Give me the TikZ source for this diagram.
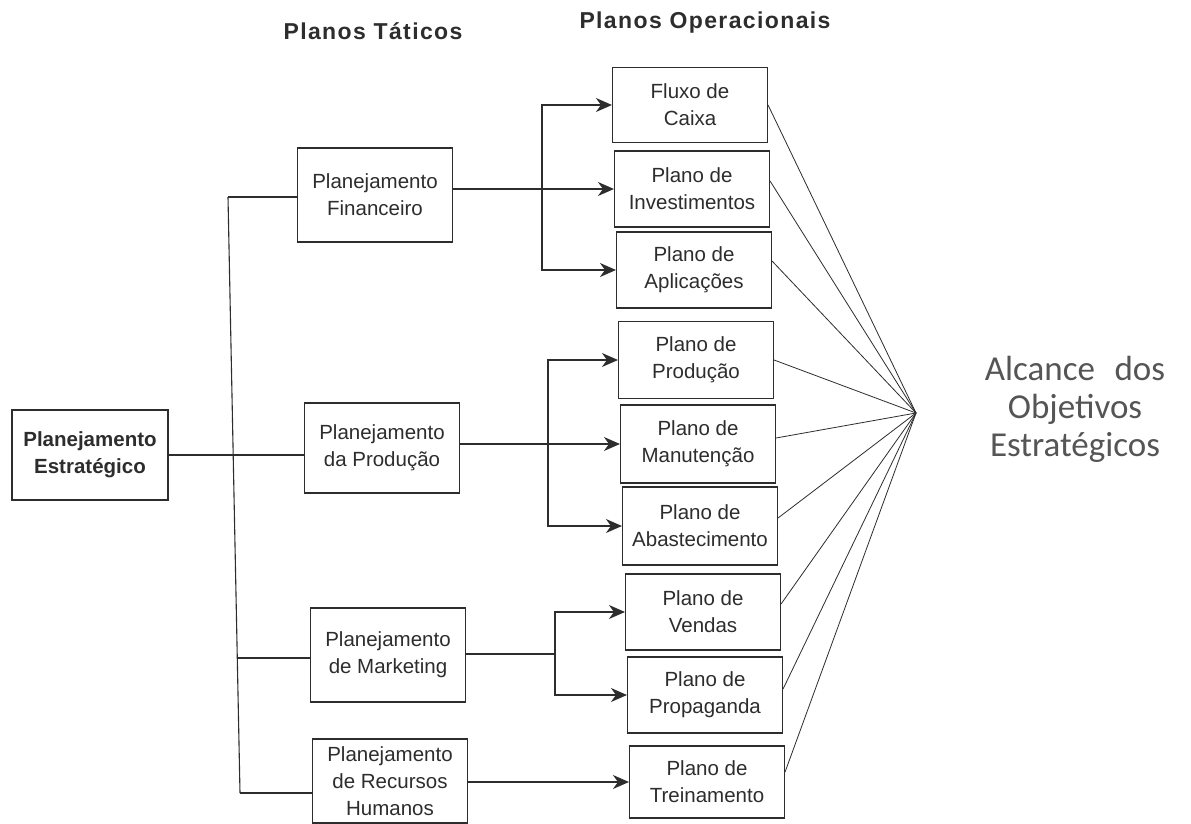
\documentclass[tikz,border=0pt]{standalone}
\usepackage{fontspec}
\setmainfont{Liberation Sans}
\newfontfamily\calib{Carlito}
\newfontfamily\hdfont[LetterSpace=6]{Liberation Sans}
\usetikzlibrary{arrows.meta}
\definecolor{ink}{RGB}{45,45,45}
\definecolor{gtxt}{RGB}{85,85,85}
\begin{document}
\begin{tikzpicture}[x=1pt,y=-1pt,
  box/.style={draw=ink,line width=1.1pt,inner sep=0pt,align=center,text=ink,
    font=\fontsize{20.5}{27}\selectfont},
  tbox/.style={box,minimum width=155pt,minimum height=92pt},
  obox/.style={box,minimum width=155pt,minimum height=77pt},
  conn/.style={draw=ink,line width=1.1pt},
  arr/.style={conn,-{Stealth[length=16pt,width=14pt,inset=5pt]}},
  ray/.style={draw=ink,line width=0.8pt},
  hdr/.style={text=ink,font=\hdfont\bfseries\fontsize{23}{28}\selectfont}]
\useasboundingbox (0,0) rectangle (1191,824);
\fill[white] (0,0) rectangle (1191,824);

% headers
\node[hdr] (h1) at (373,31) {Planos Táticos};
\node[hdr] (h2) at (705,23) {Planos Operacionais};

% strategic
\node[box,minimum width=156pt,minimum height=90pt,font=\bfseries\fontsize{20.5}{27}\selectfont] (est) at (90,455) {Planejamento\\Estratégico};

% tactical
\node[tbox,minimum height=94pt] (fin) at (375,195) {Planejamento\\Financeiro};
\node[tbox,minimum height=90pt] (prd) at (382,448) {Planejamento\\da Produção};
\node[tbox,minimum height=94pt] (mkt) at (388,655) {Planejamento\\de Marketing};
\node[tbox,minimum height=84pt] (rh)  at (390,781) {Planejamento\\de Recursos\\Humanos};

% operational
\node[obox,minimum height=75pt] (flx) at (690,105) {Fluxo de\\Caixa};
\node[obox,minimum height=76pt] (inv) at (692,189) {Plano de\\Investimentos};
\node[obox,minimum height=76pt] (apl) at (694,270) {Plano de\\Aplicações};
\node[obox] (pp)  at (696,360) {Plano de\\Produção};
\node[obox,minimum height=78pt] (man) at (698,444) {Plano de\\Manutenção};
\node[obox,minimum height=78pt] (abs) at (700,526) {Plano de\\Abastecimento};
\node[obox,minimum height=76pt] (ven) at (703,612) {Plano de\\Vendas};
\node[obox,minimum height=76pt] (pro) at (705,695) {Plano de\\Propaganda};
\node[obox,minimum height=72pt] (tre) at (707,782) {Plano de\\Treinamento};

% goal
\node[text=gtxt,align=center,font=\calib\fontsize{35}{38}\selectfont] (goal) at (1075,409) {Alcance\,\, dos\\Objetivos\\Estratégicos};

% trunk
\coordinate (t1) at (228,197);
\coordinate (t4) at (240,793);
\coordinate (t2) at (233,455);
\coordinate (t3) at (237,658);
\draw[conn] (t1) -- (t4);
\draw[conn] (est.east) -- (t2);
\draw[conn] (t1) -- (t1 -| fin.west);
\draw[conn] (t2) -- (t2 -| prd.west);
\draw[conn] (t3) -- (t3 -| mkt.west);
\draw[conn] (t4) -- (t4 -| rh.west);

% financial branch
\coordinate (jf) at (542,189);
\draw[arr] (fin.east |- inv.west) -- (inv.west);
\draw[arr] (jf) |- (flx.west);
\draw[arr] (jf) |- (apl.west);

% production branch
\coordinate (jp) at (548,444);
\draw[arr] (prd.east |- man.west) -- (man.west);
\draw[arr] (jp) |- (pp.west);
\draw[arr] (jp) |- (abs.west);

% marketing branch
\coordinate (jm) at (555,654);
\draw[conn] (mkt.east |- jm) -- (jm);
\draw[arr] (jm) |- (ven.west);
\draw[arr] (jm) |- (pro.west);

% HR
\draw[arr] (rh.east |- tre.west) -- (tre.west);

% rays
\coordinate (cv) at (916,413);
\draw[ray] (flx.east) -- (cv);
\draw[ray] ([yshift=8pt]inv.east) -- (cv);
\draw[ray] ([yshift=9pt]apl.east) -- (cv);
\draw[ray] (pp.east) -- (cv);
\draw[ray] ([yshift=6pt]man.east) -- (cv);
\draw[ray] ([yshift=8pt]abs.east) -- (cv);
\draw[ray] ([yshift=8pt]ven.east) -- (cv);
\draw[ray] ([yshift=6pt]pro.east) -- (cv);
\draw[ray] ([yshift=10pt]tre.east) -- (cv);
\end{tikzpicture}
\end{document}
